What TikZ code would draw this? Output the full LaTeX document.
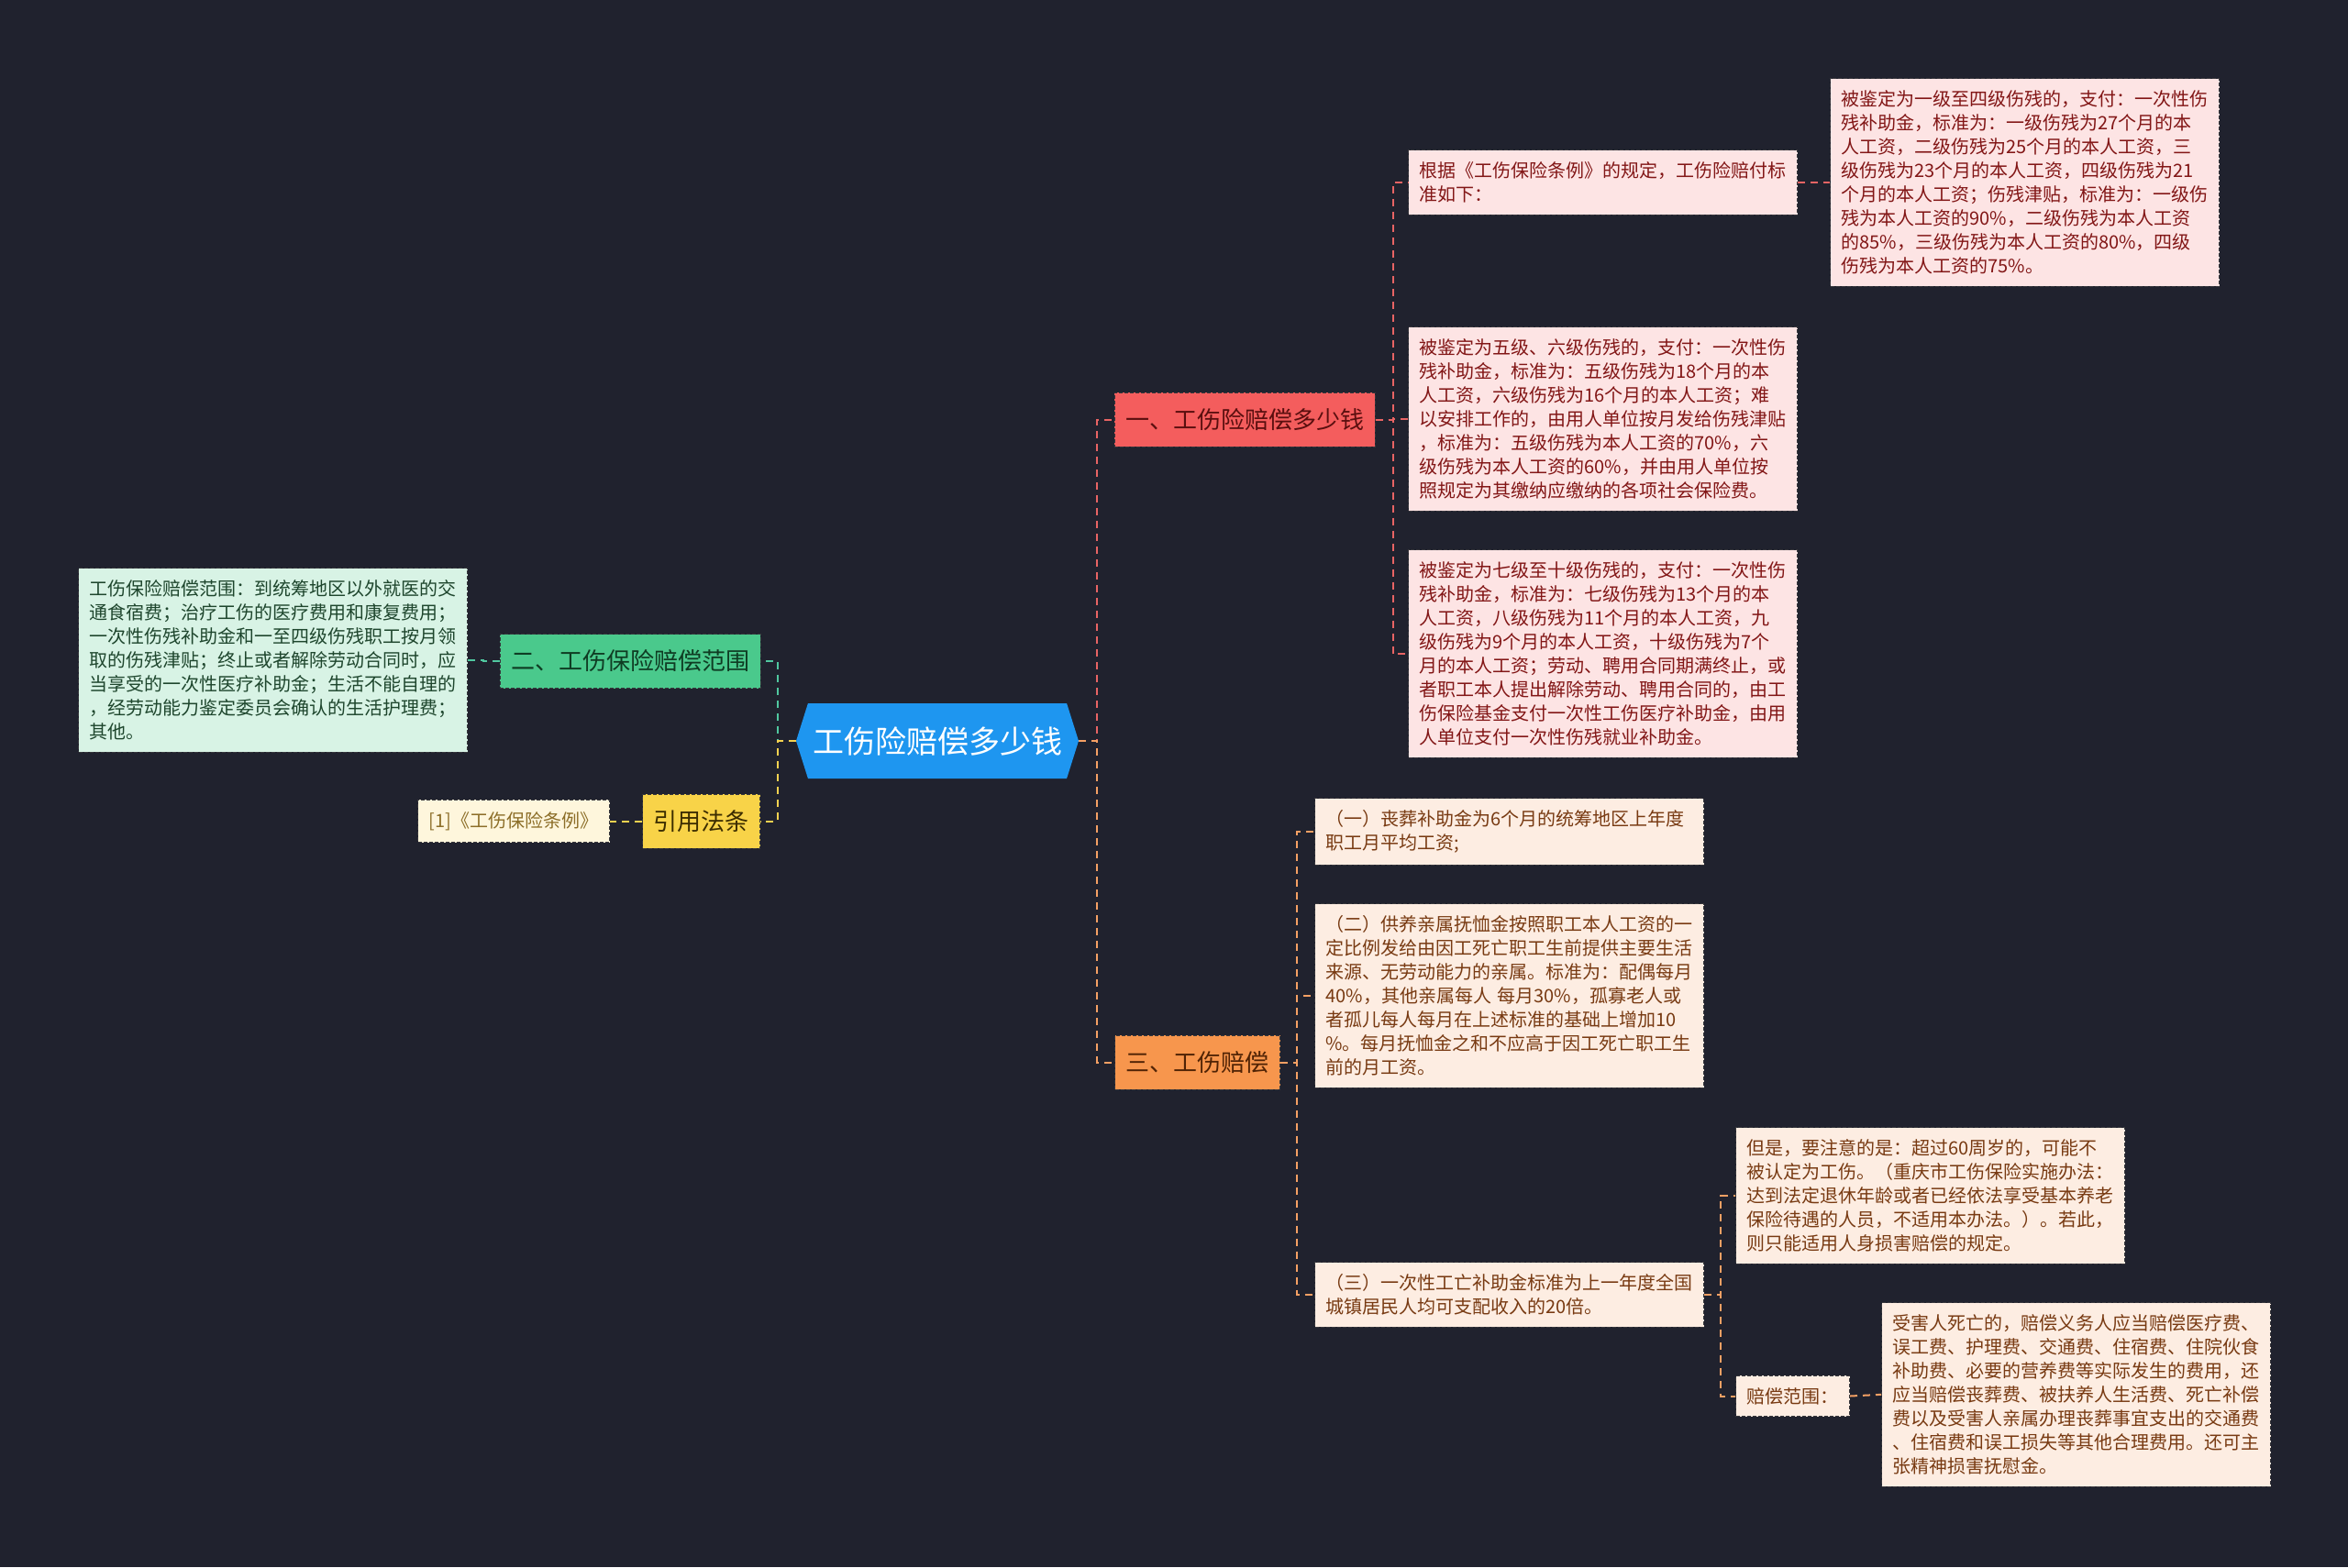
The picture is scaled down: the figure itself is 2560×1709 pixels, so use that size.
\documentclass[tikz,border=0pt]{standalone}
\usepackage{fontspec}
\newfontfamily\cjk{Noto Sans CJK SC}
\usetikzlibrary{shapes.symbols}
\definecolor{bg}{RGB}{32,34,46}
\definecolor{cblue}{RGB}{30,150,240}
\definecolor{bred}{RGB}{244,93,93}
\definecolor{bgreen}{RGB}{74,201,140}
\definecolor{byellow}{RGB}{248,211,72}
\definecolor{borange}{RGB}{247,150,77}
\definecolor{pinkfill}{RGB}{253,228,228}
\definecolor{pinktext}{RGB}{130,22,22}
\definecolor{peachfill}{RGB}{253,237,226}
\definecolor{peachtext}{RGB}{120,58,18}
\definecolor{mintfill}{RGB}{216,243,229}
\definecolor{minttext}{RGB}{30,70,45}
\definecolor{creamfill}{RGB}{254,246,220}
\definecolor{creamtext}{RGB}{140,110,40}
\definecolor{nodeborder}{RGB}{55,55,60}
\definecolor{lred}{RGB}{232,100,100}
\definecolor{lorange}{RGB}{245,160,100}
\definecolor{lgreen}{RGB}{80,200,160}
\definecolor{lyellow}{RGB}{245,210,80}
\tikzset{
  boxline/.style={draw=nodeborder, line width=0.5pt, dash pattern=on 2pt off 1pt},
  leafbase/.style={boxline, inner xsep=6pt, inner ysep=6.5pt, anchor=north west,
    font=\cjk\fontsize{10}{13}\selectfont},
  leaf/.style={leafbase, text width=200pt, align=left},
  pinkleaf/.style={leaf, fill=pinkfill, text=pinktext},
  peachleaf/.style={leaf, fill=peachfill, text=peachtext},
  mintleaf/.style={leaf, fill=mintfill, text=minttext},
  branch/.style={boxline, inner xsep=6pt, inner ysep=0pt, minimum height=29.5pt, anchor=center,
    font=\cjk\fontsize{13}{15}\selectfont},
  conn/.style={line width=1pt, dash pattern=on 4pt off 3pt},
}
\begin{document}
\begin{tikzpicture}[x=0.5pt,y=-0.5pt]
\fill[bg] (0,0) rectangle (2560,1709);
\useasboundingbox (0,0) rectangle (2560,1709);

% central
\node[shape=signal, signal to=east and west, signal pointer angle=145, fill=cblue, text=white,
  minimum width=154pt, minimum height=41pt, inner sep=0pt,
  font=\cjk\fontsize{17}{20}\selectfont] (c) at (1022,808) {工伤险赔偿多少钱};

% branches
\node[branch, fill=bred, text={rgb,255:red,90;green,15;blue,15}] (b1) at (1357,457.5) {一、工伤险赔偿多少钱};
\node[branch, fill=bgreen, text={rgb,255:red,15;green,60;blue,35}] (b2) at (687,721) {二、工伤保险赔偿范围};
\node[branch, fill=byellow, text={rgb,255:red,60;green,45;blue,0}] (b4) at (764.5,895.5) {引用法条};
\node[branch, fill=borange, text={rgb,255:red,80;green,35;blue,5}] (b3) at (1305.5,1158.5) {三、工伤赔偿};

% leaves of branch 1
\node[pinkleaf] (l6) at (1535,163) {根据《工伤保险条例》的规定，工伤险赔付标\\准如下：};
\node[pinkleaf] (l7) at (1995,85) {被鉴定为一级至四级伤残的，支付：一次性伤\\残补助金，标准为：一级伤残为27个月的本\\人工资，二级伤残为25个月的本人工资，三\\级伤残为23个月的本人工资，四级伤残为21\\个月的本人工资；伤残津贴，标准为：一级伤\\残为本人工资的90\%，二级伤残为本人工资\\的85\%，三级伤残为本人工资的80\%，四级\\伤残为本人工资的75\%。};
\node[pinkleaf] (l8) at (1535,356) {被鉴定为五级、六级伤残的，支付：一次性伤\\残补助金，标准为：五级伤残为18个月的本\\人工资，六级伤残为16个月的本人工资；难\\以安排工作的，由用人单位按月发给伤残津贴\\，标准为：五级伤残为本人工资的70\%，六\\级伤残为本人工资的60\%，并由用人单位按\\照规定为其缴纳应缴纳的各项社会保险费。};
\node[pinkleaf] (l9) at (1535,599) {被鉴定为七级至十级伤残的，支付：一次性伤\\残补助金，标准为：七级伤残为13个月的本\\人工资，八级伤残为11个月的本人工资，九\\级伤残为9个月的本人工资，十级伤残为7个\\月的本人工资；劳动、聘用合同期满终止，或\\者职工本人提出解除劳动、聘用合同的，由工\\伤保险基金支付一次性工伤医疗补助金，由用\\人单位支付一次性伤残就业补助金。};

% leaves of branch 2 and cite
\node[mintleaf] (l10) at (85,619) {工伤保险赔偿范围：到统筹地区以外就医的交\\通食宿费；治疗工伤的医疗费用和康复费用；\\一次性伤残补助金和一至四级伤残职工按月领\\取的伤残津贴；终止或者解除劳动合同时，应\\当享受的一次性医疗补助金；生活不能自理的\\，经劳动能力鉴定委员会确认的生活护理费；\\其他。};
\node[leafbase, fill=creamfill, text=creamtext, anchor=east] (l11) at (665,895.5) {[1]《工伤保险条例》};

% leaves of branch 3
\node[peachleaf] (l12) at (1433,870) {（一）丧葬补助金为6个月的统筹地区上年度\\职工月平均工资;};
\node[peachleaf] (l13) at (1433,985) {（二）供养亲属抚恤金按照职工本人工资的一\\定比例发给由因工死亡职工生前提供主要生活\\来源、无劳动能力的亲属。标准为：配偶每月\\40\%，其他亲属每人 每月30\%，孤寡老人或\\者孤儿每人每月在上述标准的基础上增加10\\\%。每月抚恤金之和不应高于因工死亡职工生\\前的月工资。};
\node[peachleaf] (l14) at (1433,1376) {（三）一次性工亡补助金标准为上一年度全国\\城镇居民人均可支配收入的20倍。};
\node[peachleaf] (l15) at (1892,1229) {但是，要注意的是：超过60周岁的，可能不\\被认定为工伤。（重庆市工伤保险实施办法：\\达到法定退休年龄或者已经依法享受基本养老\\保险待遇的人员，不适用本办法。）。若此，\\则只能适用人身损害赔偿的规定。};
\node[leafbase, fill=peachfill, text=peachtext, anchor=west] (l16) at (1892,1522.5) {赔偿范围：};
\node[peachleaf] (l17) at (2051,1420) {受害人死亡的，赔偿义务人应当赔偿医疗费、\\误工费、护理费、交通费、住宿费、住院伙食\\补助费、必要的营养费等实际发生的费用，还\\应当赔偿丧葬费、被扶养人生活费、死亡补偿\\费以及受害人亲属办理丧葬事宜支出的交通费\\、住宿费和误工损失等其他合理费用。还可主\\张精神损害抚慰金。};

% connectors
\draw[conn, lred] (c.east) -- ++(20,0) |- (b1.west);
\draw[conn, lorange] (c.east) -- ++(20,0) |- (b3.west);
\draw[conn, lgreen] (c.west) -- ++(-20,0) |- (b2.east);
\draw[conn, lyellow] (c.west) -- ++(-20,0) |- (b4.east);

\draw[conn, lred] (b1.east) -- ++(19,0) |- (l6.west);
\draw[conn, lred] (b1.east) -- ++(19,0) |- (l8.west);
\draw[conn, lred] (b1.east) -- ++(19,0) |- (l9.west);
\draw[conn, lred] (l6.east) -- ++(18,0) |- (l7.west);

\draw[conn, lgreen] (b2.west) -- ++(-18,0) |- (l10.east);
\draw[conn, lyellow] (b4.west) -- (l11.east);

\draw[conn, lorange] (b3.east) -- ++(18,0) |- (l12.west);
\draw[conn, lorange] (b3.east) -- ++(18,0) |- (l13.west);
\draw[conn, lorange] (b3.east) -- ++(18,0) |- (l14.west);
\draw[conn, lorange] (l14.east) -- ++(18,0) |- (l15.west);
\draw[conn, lorange] (l14.east) -- ++(18,0) |- (l16.west);
\draw[conn, lorange] (l16.east) -- (l17.west);
\end{tikzpicture}
\end{document}
